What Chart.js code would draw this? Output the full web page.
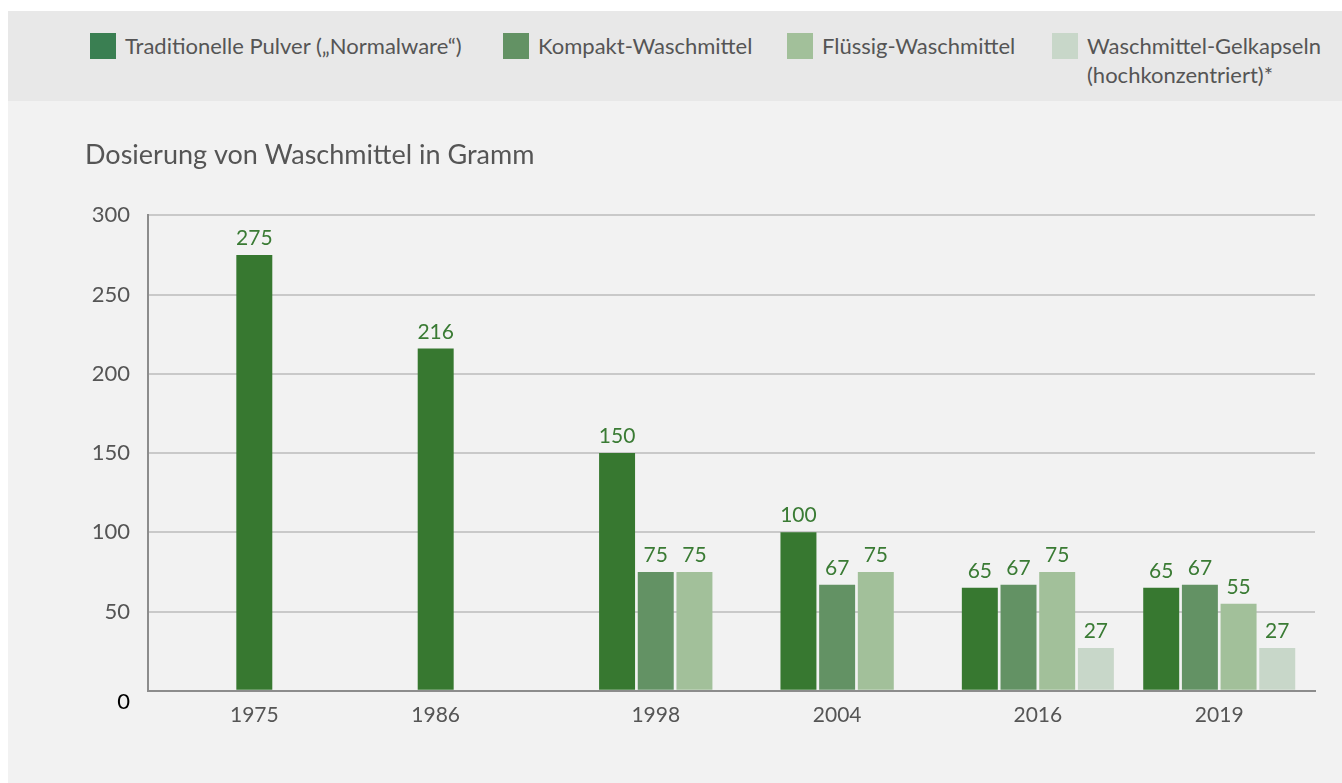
<!DOCTYPE html>
<html>
<head>
<meta charset="utf-8">
<script src="https://cdn.jsdelivr.net/npm/chart.js@4"></script>
<style>
  body { margin: 0; background: #fff; font-family: Lato, sans-serif; }
  #band { position: absolute; left: 8px; top: 11px; width: 1334px; height: 90px; background: #e8e8e8; }
  #panel { position: absolute; left: 8px; top: 101px; width: 1334px; height: 682px; background: #f2f2f2; }
  #myChart { position: absolute; left: 0; top: 0; }
  .item { position: absolute; top: 31px; display: flex; align-items: flex-start; }
  .box { width: 26px; height: 26px; margin-top: 2px; margin-right: 9px; }
  .txt { font-size: 22px; line-height: 29px; color: #555; white-space: nowrap; }
</style>
</head>
<body>
<div id="band"></div>
<div id="panel"></div>
<div id="legend"></div>
<canvas id="myChart" width="1342" height="783"></canvas>
<script>
const years = ["1975", "1986", "1998", "2004", "2016", "2019"];
const pulver = [275, 216, 150, 100, 65, 65];
const kompakt = [null, null, 75, 67, 67, 67];
const fluessig = [null, null, 75, 75, 75, 55];
const kapseln = [null, null, null, null, 27, 27];
const seriesNames = [
  ["Traditionelle Pulver („Normalware“)"],
  ["Kompakt-Waschmittel"],
  ["Flüssig-Waschmittel"],
  ["Waschmittel-Gelkapseln", "(hochkonzentriert)*"],
];
const yMax = 300;
const yStep = 50;

const barColors = ["#377830", "#639264", "#a2c09a", "#c8d7c9"];
const legendColors = ["#3a7f52", "#639264", "#a2c09a", "#c8d7c9"];
const legendLeft = [90, 503, 787, 1052];
const textGray = "#555555";
const catPct = 0.853;

Chart.defaults.font.family = "Lato, 'Open Sans', sans-serif";

const series = [pulver, kompakt, fluessig, kapseln];

// html legend in the grey band
const legendEl = document.getElementById("legend");
seriesNames.forEach((lines, i) => {
  const item = document.createElement("div");
  item.className = "item";
  item.style.left = legendLeft[i] + "px";
  const box = document.createElement("div");
  box.className = "box";
  box.style.background = legendColors[i];
  const txt = document.createElement("div");
  txt.className = "txt";
  txt.innerHTML = lines.join("<br>");
  item.appendChild(box);
  item.appendChild(txt);
  legendEl.appendChild(item);
});

// year label sits under the middle of the bars that exist in that group
function labelPos(g) {
  const idx = series.map((s, i) => (s[g] == null ? null : i)).filter((i) => i !== null);
  const mean = idx.reduce((a, b) => a + b, 0) / idx.length;
  return g + (mean - (series.length - 1) / 2) * (catPct / series.length);
}

// numbers above the bars
const valueLabels = {
  id: "valueLabels",
  afterDatasetsDraw(chart) {
    const ctx = chart.ctx;
    ctx.save();
    ctx.font = "21px Lato";
    ctx.fillStyle = "#3a7b34";
    ctx.textAlign = "center";
    ctx.textBaseline = "alphabetic";
    chart.data.datasets.forEach((ds, i) => {
      chart.getDatasetMeta(i).data.forEach((bar, j) => {
        const v = ds.data[j].y;
        if (v == null) return;
        ctx.fillText(v, bar.x, bar.y - 10);
      });
    });
    ctx.restore();
  },
};

const ctx = document.getElementById("myChart");

new Chart(ctx, {
  type: "bar",
  data: {
    datasets: series.map((s, i) => ({
      label: seriesNames[i].join(" "),
      data: s.map((v, g) => ({ x: g, y: v })),
      backgroundColor: barColors[i],
      categoryPercentage: catPct,
      barPercentage: 0.93,
    })),
  },
  options: {
    responsive: false,
    animation: false,
    layout: {
      padding: { left: 85, right: 27, top: 0, bottom: 51 },
    },
    scales: {
      x: {
        type: "linear",
        offset: false,
        min: -0.906,
        max: 5.528,
        grid: { display: false },
        border: { color: "#8c8c8c", width: 2 },
        afterBuildTicks: (scale) => {
          scale.ticks = years.map((y, g) => ({ value: labelPos(g) }));
        },
        ticks: {
          autoSkip: false,
          maxRotation: 0,
          padding: 4,
          color: textGray,
          font: { size: 21 },
          callback: (v, i) => years[i],
        },
      },
      y: {
        min: 0,
        max: yMax,
        afterFit: (scale) => {
          scale.width = 63;
        },
        grid: { color: "#c9c9c9", lineWidth: 2, drawTicks: false },
        border: { color: "#8c8c8c", width: 2 },
        ticks: {
          stepSize: yStep,
          padding: 18,
          font: { size: 22, lineHeight: 1.0 },
          color: (c) => (c.tick && c.tick.value === 0 ? "#000" : textGray),
          callback: (v) => (v === 0 ? ["", "0"] : v),
        },
      },
    },
    plugins: {
      legend: { display: false },
      title: {
        display: true,
        text: "Dosierung von Waschmittel in Gramm",
        align: "start",
        color: textGray,
        font: { size: 27, weight: "normal" },
        padding: { top: 139, bottom: 44 },
      },
      tooltip: { enabled: false },
    },
  },
  plugins: [valueLabels],
});
</script>
</body>
</html>
